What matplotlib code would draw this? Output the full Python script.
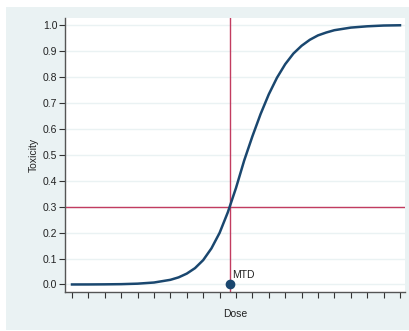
import matplotlib
matplotlib.use('Agg')
from matplotlib import pyplot as plt
from matplotlib.patches import Rectangle

# dose-toxicity curve
dose = [0, 1, 2, 3, 4, 5, 6, 6.5, 7, 7.5, 8, 8.5, 9, 9.5, 10, 10.5,
        11, 11.5, 12, 12.5, 13, 13.5, 14, 14.5, 15, 15.5, 16, 17, 18, 19, 20]
toxicity = [0.0001, 0.0002, 0.0006, 0.0013, 0.0032, 0.0076, 0.018, 0.0275,
            0.042, 0.063, 0.094, 0.139, 0.199, 0.278, 0.372, 0.478,
            0.571, 0.657, 0.733, 0.797, 0.849, 0.890, 0.920, 0.943, 0.960,
            0.971, 0.980, 0.990, 0.995, 0.998, 0.999]

target_tox = 0.3
mtd_dose = 9.63
mtd_label = 'MTD'

y_ticks = [0.0, 0.1, 0.2, 0.3, 0.4, 0.5, 0.6, 0.7, 0.8, 0.9, 1.0]
x_ticks = list(range(0, 21))

navy = '#1a476f'
red = '#c23c60'
bg = '#eaf2f3'
txt = '#222222'

plt.rcParams['font.family'] = ['Liberation Sans', 'DejaVu Sans']

fig = plt.figure(figsize=(4.10, 3.31), dpi=100, facecolor='white')
# outer graph region (stata style light blue), kept behind the axes
fig.patches.append(Rectangle((6 / 410, 1 / 331), 1 - 6 / 410, 1 - 8 / 331,
                             transform=fig.transFigure, facecolor=bg,
                             edgecolor='none', zorder=-10))

ax = fig.add_axes([65 / 410, 1 - 291.5 / 331, 340 / 410, 273.5 / 331])
ax.set_facecolor('white')

ax.set_xlim(-0.427, 20.305)
ax.set_ylim(-0.027, 1.027)

for t in y_ticks:
    ax.axhline(t, color=bg, lw=1.0, zorder=1)

ax.axhline(target_tox, color=red, lw=1.0, zorder=2)
ax.axvline(mtd_dose, color=red, lw=1.0, zorder=2)

ax.plot(dose, toxicity, color=navy, lw=1.8, zorder=3, solid_joinstyle='round')
ax.plot([mtd_dose], [0], 'o', color=navy, markersize=6, zorder=4, clip_on=False)
ax.annotate(mtd_label, (mtd_dose, 0), xytext=(1.5, 3), textcoords='offset points',
            ha='left', va='bottom', fontsize=7.5, color=txt, zorder=5)

ax.set_yticks(y_ticks)
ax.set_yticklabels(['%.1f' % t for t in y_ticks])
ax.set_xticks(x_ticks)
ax.set_xticklabels([])
ax.tick_params(axis='both', direction='out', length=4, width=0.8,
               colors='#333333', labelcolor=txt, labelsize=7.5, pad=1.5)

for side in ['top', 'right']:
    ax.spines[side].set_visible(False)
for side in ['left', 'bottom']:
    ax.spines[side].set_color('#555555')
    ax.spines[side].set_linewidth(1.0)

ax.set_xlabel('Dose', fontsize=7.5, color=txt, labelpad=7)
ax.set_ylabel('Toxicity', fontsize=7.5, color=txt, labelpad=3)

fig.savefig('out.png', dpi=100, facecolor=fig.get_facecolor())
